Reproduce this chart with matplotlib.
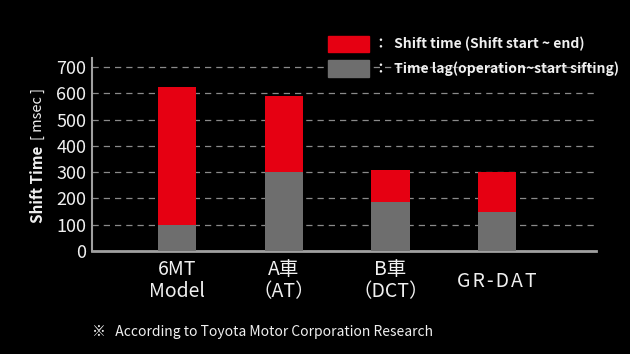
import matplotlib.pyplot as plt
from matplotlib.patches import Rectangle

plt.rcParams["font.family"] = ["Noto Sans CJK JP", "DejaVu Sans"]

# data (msec)
categories = ["6MT\nModel", "A車\n（AT）", "B車\n（DCT）", "G\u200aR\u200a-\u200aD\u200aA\u200aT"]
time_lag = [100, 300, 185, 148]
shift_time_total = [625, 592, 310, 300]
shift_time = [t - l for t, l in zip(shift_time_total, time_lag)]

RED = "#e60012"
GRAY = "#6e6e6e"
AXIS = "#a0a0a0"
TXT = "#f0f0f0"

fig = plt.figure(figsize=(6.3, 3.54), dpi=100, facecolor="black")
ax = fig.add_axes([0.146, 0.291, 0.8, 0.545], facecolor="black")

x = list(range(len(categories)))
ax.bar(x, time_lag, width=0.36, color=GRAY, zorder=3)
ax.bar(x, shift_time, bottom=time_lag, width=0.36, color=RED, zorder=3)

ax.set_xlim(-0.8, 3.93)
ax.set_ylim(0, 735)
ax.set_yticks(range(0, 701, 100))
ax.yaxis.grid(True, color="#8a8a8a", linestyle=(0, (5, 4)), linewidth=0.9)
ax.set_axisbelow(True)

for side in ["top", "right"]:
    ax.spines[side].set_visible(False)
ax.spines["left"].set_color(AXIS)
ax.spines["left"].set_linewidth(1.5)
ax.spines["bottom"].set_color(AXIS)
ax.spines["bottom"].set_linewidth(2)

ax.tick_params(axis="y", length=0, pad=4, labelsize=13, labelcolor=TXT)
ax.tick_params(axis="x", length=0, pad=6, labelsize=14, labelcolor=TXT)
ax.set_xticks(x)
ax.set_xticklabels(categories, linespacing=1.05)
ax.get_xticklabels()[-1].set_y(-0.06)

# y axis label in two weights
fig.text(0.06, 0.370, "Shift Time", rotation=90, color=TXT, fontsize=11,
         fontweight="bold", ha="center", va="bottom")
fig.text(0.06, 0.751, "[ msec ]", rotation=90, color=TXT, fontsize=10.5,
         ha="center", va="top")

# legend
fig.add_artist(Rectangle((0.521, 0.853), 0.065, 0.045, transform=fig.transFigure,
                         color=RED))
fig.add_artist(Rectangle((0.521, 0.783), 0.065, 0.048, transform=fig.transFigure,
                         color=GRAY))
fig.text(0.593, 0.876, "：  Shift time (Shift start ~ end)", color=TXT,
         fontsize=10, fontweight="bold", va="center")
fig.text(0.593, 0.806, "：  Time lag(operation~start sifting)", color=TXT,
         fontsize=10, fontweight="bold", va="center")

# footnote
fig.text(0.146, 0.062, "※   According to Toyota Motor Corporation Research",
         color=TXT, fontsize=10, va="center")

fig.savefig("out.png", dpi=100, facecolor="black")
